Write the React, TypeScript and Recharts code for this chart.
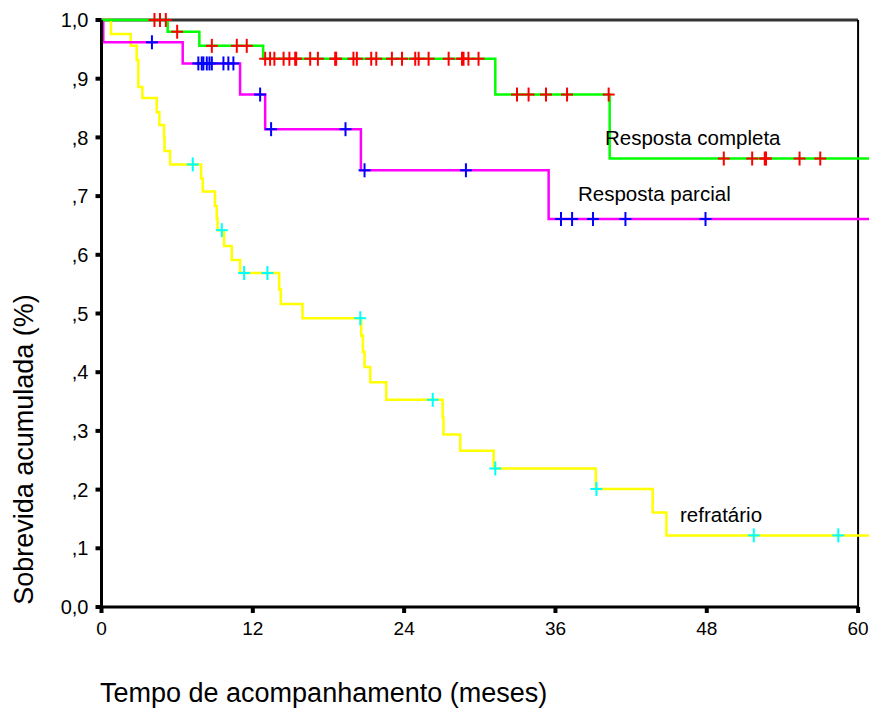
import React from 'react'
import { ComposedChart, Line, Scatter, XAxis, YAxis, ReferenceLine } from 'recharts'

// Kaplan-Meier: tempo (meses) em que a curva cai, e sobrevida acumulada depois da queda
const completaTempos = [5.25, 7.76, 12.82, 31.23, 40.3]
const completaSobrev = [0.98, 0.956, 0.934, 0.873, 0.764]
const completaCensura = [
  4.2, 4.64, 5.1, 6.0, 8.75, 10.73, 11.52, 12.98, 13.37, 13.71, 14.44, 14.9, 15.36, 15.44,
  16.55, 17.16, 18.53, 18.61, 19.98, 20.25, 21.39, 21.79, 23.03, 23.83, 24.88, 25.15, 25.94,
  27.53, 28.59, 28.71, 29.1, 29.9, 32.95, 33.87, 35.25, 36.92, 40.22, 49.35, 51.6, 52.6,
  52.7, 55.36, 57.0,
]

const parcialTempos = [0.14, 6.44, 10.99, 12.98, 20.57, 35.46]
const parcialSobrev = [0.962, 0.926, 0.873, 0.814, 0.744, 0.661]
const parcialCensura = [
  4.0, 7.68, 7.95, 8.08, 8.35, 8.56, 8.75, 9.67, 10.06, 10.46, 12.58, 13.45, 19.35, 20.86,
  28.9, 36.44, 37.32, 38.98, 41.55, 47.9,
]

const refratTempos = [
  0.75, 2.32, 2.79, 2.92, 3.24, 4.38, 4.59, 4.96, 5.0, 5.44, 7.9, 8.03, 9.0, 9.14, 9.2,
  9.72, 10.33, 10.99, 14.09, 14.22, 15.94, 20.6, 20.73, 20.86, 21.31, 22.58, 27.05, 27.12,
  28.45, 31.1, 39.2, 43.71, 44.8,
]
const refratSobrev = [
  0.976, 0.956, 0.932, 0.886, 0.867, 0.843, 0.821, 0.8, 0.777, 0.754, 0.73, 0.708, 0.683,
  0.662, 0.642, 0.615, 0.591, 0.569, 0.541, 0.516, 0.492, 0.462, 0.435, 0.409, 0.383, 0.353,
  0.323, 0.294, 0.266, 0.236, 0.201, 0.161, 0.122,
]
const refratCensura = [7.24, 9.54, 11.31, 13.16, 20.52, 26.27, 31.23, 39.25, 51.73, 58.43]

const xTicks = [0, 12, 24, 36, 48, 60]
const yTicks = [0, 0.1, 0.2, 0.3, 0.4, 0.5, 0.6, 0.7, 0.8, 0.9, 1]
const tempoFim = 61.5

const fonte = '"Liberation Sans", Arial, sans-serif'

function curva(tempos: number[], sobrev: number[]) {
  const pts = [{ t: 0, s: 1 }]
  tempos.forEach((t, i) => pts.push({ t, s: sobrev[i] }))
  pts.push({ t: tempoFim, s: sobrev[sobrev.length - 1] })
  return pts
}

// censura fica no nível da curva naquele tempo
function censuras(cens: number[], tempos: number[], sobrev: number[]) {
  return cens.map((t) => {
    let s = 1
    tempos.forEach((et, i) => {
      if (et <= t) s = sobrev[i]
    })
    return { t, s }
  })
}

const cruz = (cor: string) => (props: any) => {
  const { cx, cy } = props
  return (
    <g>
      <line x1={cx - 6} x2={cx + 6} y1={cy} y2={cy} stroke={cor} strokeWidth={2} />
      <line x1={cx} x2={cx} y1={cy - 7} y2={cy + 7} stroke={cor} strokeWidth={2} />
    </g>
  )
}

const fmtY = (v: number) => {
  if (v === 0) return '0,0'
  if (v === 1) return '1,0'
  return ',' + Math.round(v * 10)
}

const rotulo = (texto: string, left: number, top: number, size = 20.5) => (
  <div
    style={{
      position: 'absolute',
      left,
      top,
      fontSize: size,
      lineHeight: `${size}px`,
      whiteSpace: 'nowrap',
      color: '#000',
    }}
  >
    {texto}
  </div>
)

export default function App() {
  return (
    <div style={{ position: 'relative', width: 869, height: 703, fontFamily: fonte, background: '#fff' }}>
      <ComposedChart width={869} height={703} margin={{ top: 12, right: 0, left: 33.5, bottom: 64 }}>
        <XAxis
          type="number"
          dataKey="t"
          domain={[0, tempoFim]}
          ticks={xTicks}
          axisLine={false}
          tickLine={{ stroke: '#000', strokeWidth: 4 }}
          tickSize={6}
          tickMargin={9}
          height={40}
          tick={{ fill: '#000', fontSize: 19, fontFamily: fonte }}
        />
        <YAxis
          type="number"
          dataKey="s"
          domain={[0, 1]}
          ticks={yTicks}
          tickFormatter={fmtY}
          width={60}
          axisLine={{ stroke: '#000', strokeWidth: 3 }}
          tickLine={{ stroke: '#000', strokeWidth: 4 }}
          tickSize={6}
          tickMargin={7}
          tick={{ fill: '#000', fontSize: 20, fontFamily: fonte }}
        />
        <ReferenceLine segment={[{ x: 0, y: 1 }, { x: 60, y: 1 }]} stroke="#333" strokeWidth={3} />
        <ReferenceLine segment={[{ x: 60, y: 0 }, { x: 60, y: 1 }]} stroke="#000" strokeWidth={2} />
        <ReferenceLine segment={[{ x: 0, y: 0 }, { x: 60, y: 0 }]} stroke="#000" strokeWidth={3} />

        <Line
          data={curva(refratTempos, refratSobrev)}
          dataKey="s"
          type="stepAfter"
          stroke="#ffff00"
          strokeWidth={2.5}
          dot={false}
          activeDot={false}
          isAnimationActive={false}
        />
        <Line
          data={curva(parcialTempos, parcialSobrev)}
          dataKey="s"
          type="stepAfter"
          stroke="#ff00ff"
          strokeWidth={2.5}
          dot={false}
          activeDot={false}
          isAnimationActive={false}
        />
        <Line
          data={curva(completaTempos, completaSobrev)}
          dataKey="s"
          type="stepAfter"
          stroke="#00ff00"
          strokeWidth={2.5}
          dot={false}
          activeDot={false}
          isAnimationActive={false}
        />
        <Scatter
          data={censuras(refratCensura, refratTempos, refratSobrev)}
          shape={cruz('#00ffff')}
          isAnimationActive={false}
        />
        <Scatter
          data={censuras(parcialCensura, parcialTempos, parcialSobrev)}
          shape={cruz('#0000ff')}
          isAnimationActive={false}
        />
        <Scatter
          data={censuras(completaCensura, completaTempos, completaSobrev)}
          shape={cruz('#ff0000')}
          isAnimationActive={false}
        />
      </ComposedChart>

      {rotulo('Resposta completa', 597, 119.5)}
      {rotulo('Resposta parcial', 570, 176)}
      {rotulo('refratário', 672, 497)}
      {rotulo('Tempo de acompanhamento (meses)', 92, 671.5, 27)}
      <div
        style={{
          position: 'absolute',
          left: 16 - 200,
          top: 441 - 13.5,
          width: 400,
          textAlign: 'center',
          fontSize: 27,
          lineHeight: '27px',
          whiteSpace: 'nowrap',
          transform: 'rotate(-90deg)',
          color: '#000',
        }}
      >
        Sobrevida acumulada (%)
      </div>
    </div>
  )
}
